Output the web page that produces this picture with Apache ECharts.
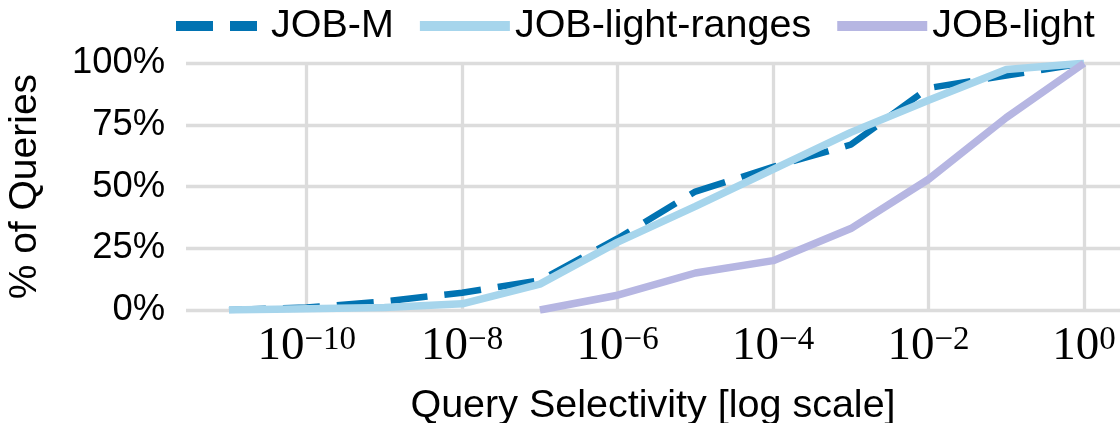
<!DOCTYPE html>
<html>
<head>
<meta charset="utf-8">
<script src="https://cdn.jsdelivr.net/npm/echarts@6/dist/echarts.min.js"></script>
<style>
html,body{margin:0;padding:0;background:#fff;}
#chart{width:1120px;height:423px;}
</style>
</head>
<body>
<div id="chart"></div>
<script>
// Selectivity grid (x values) for the CDF curves
const selectivity = [1e-11, 1e-10, 1e-9, 1e-8, 1e-7, 1e-6, 1e-5, 1e-4, 1e-3, 1e-2, 1e-1, 1e0];
const jobM = [0, 1, 3.5, 7, 12, 29, 48, 58, 67, 90, 95, 100];
const jobLightRanges = [0, 0.5, 1, 2.5, 10.5, 27.5, 42, 57, 72, 85, 97.5, 100];
const selectivityLight = [1e-7, 1e-6, 1e-5, 1e-4, 1e-3, 1e-2, 1e-1, 1e0];
const jobLight = [0, 6, 15, 20, 33, 53, 78, 100];
const seriesNames = ['JOB-M', 'JOB-light-ranges', 'JOB-light'];
const xTickExponents = [-10, -8, -6, -4, -2, 0];
const yTicks = [0, 25, 50, 75, 100];

const pairs = (xs, ys) => xs.map((x, i) => [Math.log10(x), ys[i]]);

const colors = ['#0173b2', '#a6d5ec', '#b6b6e2'];
const sans = 'Liberation Sans';

const chart = echarts.init(document.getElementById('chart'), null, {renderer: 'canvas'});
chart.setOption({
  animation: false,
  backgroundColor: '#ffffff',
  grid: {left: 186, right: 0, top: 63.3, bottom: 113, containLabel: false, outerBoundsMode: 'none'},
  legend: {
    left: 171, top: 1,
    itemWidth: 90, itemHeight: 10, itemGap: 26,
    textStyle: {fontFamily: sans, fontSize: 39.5, color: '#000', lineHeight: 40},
    data: [
      {name: seriesNames[0], icon: 'path://M0,0H37V10H0Z M54,0H81V10H54Z M90,0L90,10'},
      {name: seriesNames[1], icon: 'rect'},
      {name: seriesNames[2], icon: 'rect'}
    ]
  },
  xAxis: {
    type: 'value',
    min: -11.553, max: 0.463,
    name: 'Query Selectivity [log scale]',
    nameLocation: 'middle', nameGap: 76,
    nameTextStyle: {fontFamily: sans, fontSize: 39.5, color: '#000'},
    axisLine: {show: false},
    axisTick: {show: false, customValues: xTickExponents},
    splitLine: {show: true, lineStyle: {color: '#dcdcdc', width: 3.3}},
    axisLabel: {
      customValues: xTickExponents,
      margin: 14,
      formatter: v => '{b|10}{s|' + (v < 0 ? '\u2212' + (-v) : String(v)) + '}',
      rich: {
        b: {fontFamily: 'Liberation Serif', fontSize: 47, color: '#000', lineHeight: 46},
        s: {fontFamily: 'Liberation Serif', fontSize: 33, color: '#000', lineHeight: 22, verticalAlign: 'top'}
      }
    }
  },
  yAxis: {
    type: 'value',
    min: 0, max: 100, interval: 25,
    name: '% of Queries',
    nameLocation: 'middle', nameRotate: 90, nameGap: 141,
    nameTextStyle: {fontFamily: sans, fontSize: 39, color: '#000'},
    axisLine: {show: false},
    axisTick: {show: false},
    splitLine: {show: true, lineStyle: {color: '#dcdcdc', width: 3.3}},
    axisLabel: {
      margin: 21,
      fontFamily: sans, fontSize: 36.4, color: '#000',
      formatter: '{value}%'
    }
  },
  series: [
    {
      name: seriesNames[0], type: 'line', data: pairs(selectivity, jobM),
      showSymbol: false, symbol: 'none', color: colors[0],
      lineStyle: {width: 6.5, type: [37, 17], color: colors[0], cap: 'butt'}, z: 2
    },
    {
      name: seriesNames[1], type: 'line', data: pairs(selectivity, jobLightRanges),
      showSymbol: false, symbol: 'none', color: colors[1],
      lineStyle: {width: 7.5, color: colors[1], cap: 'butt'}, z: 3
    },
    {
      name: seriesNames[2], type: 'line', data: pairs(selectivityLight, jobLight),
      showSymbol: false, symbol: 'none', color: colors[2],
      lineStyle: {width: 7.5, color: colors[2], cap: 'butt'}, z: 4
    }
  ]
});
</script>
</body>
</html>
